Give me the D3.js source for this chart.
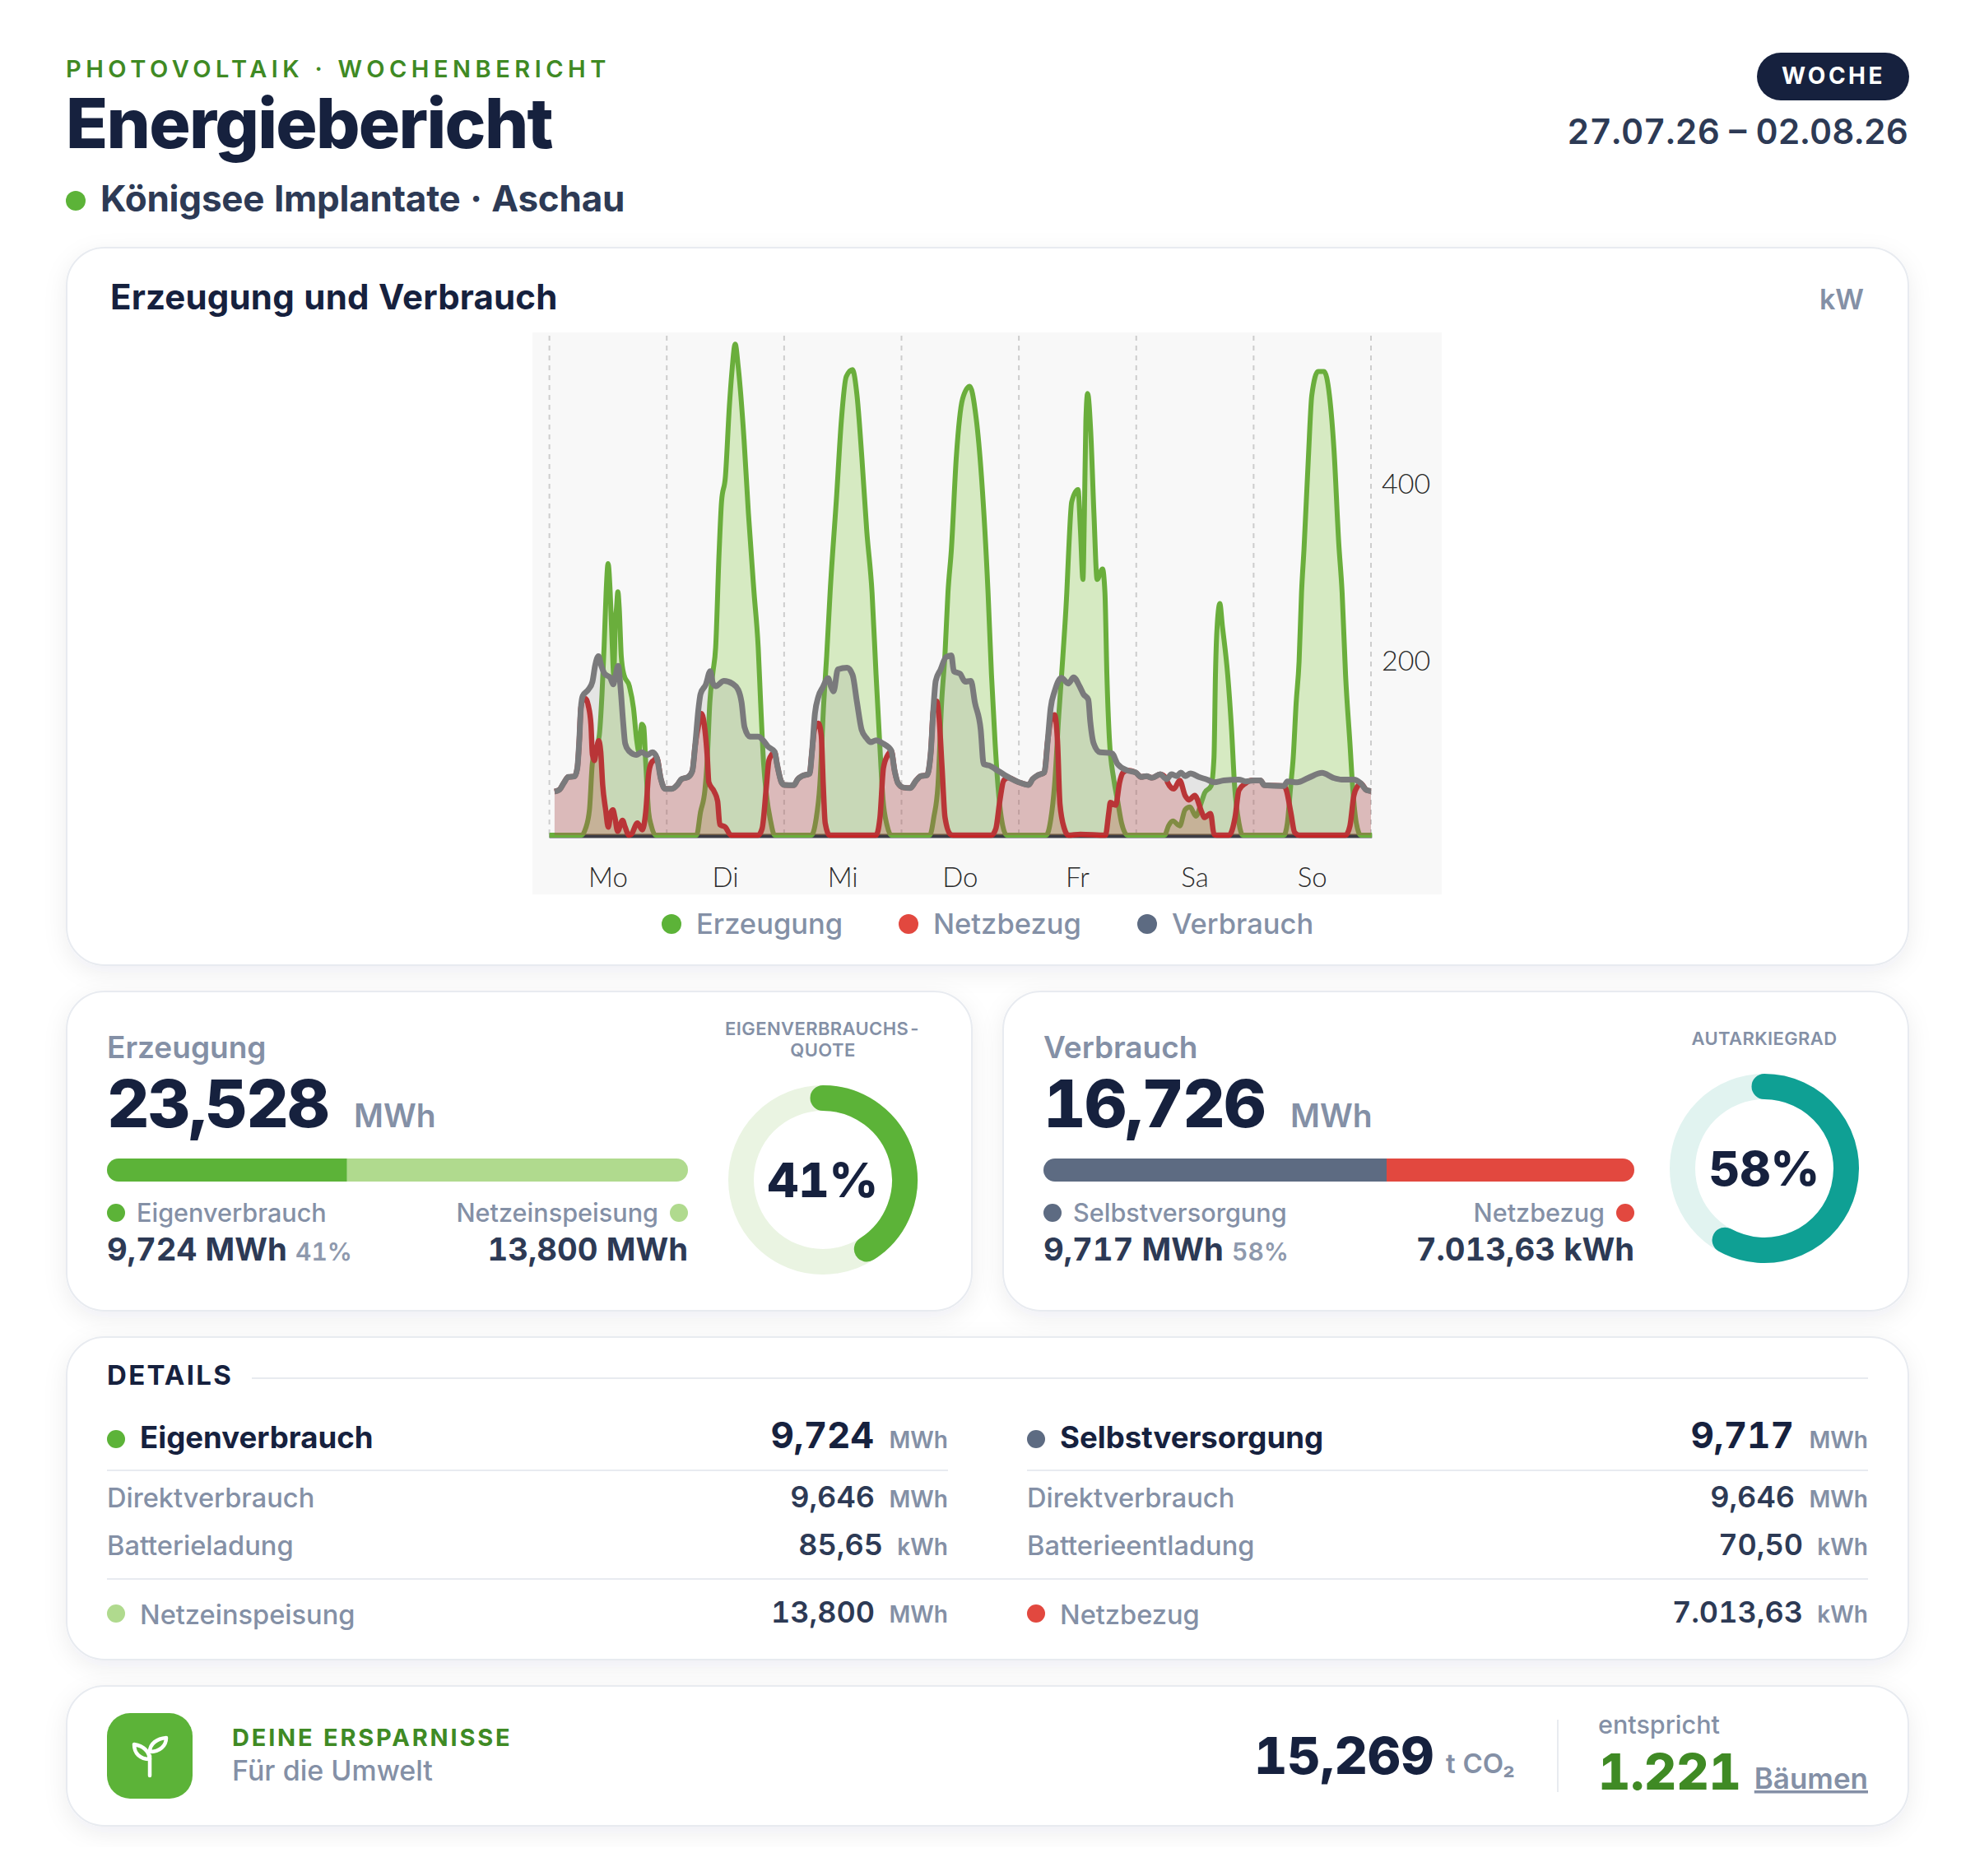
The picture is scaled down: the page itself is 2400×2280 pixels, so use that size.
<!DOCTYPE html>
<html lang="de">
<head>
<meta charset="utf-8">
<title>Energiebericht</title>
<script src="https://cdn.jsdelivr.net/npm/d3@7"></script>
<style>
  html, body { margin: 0; padding: 0; background: #fff; }
  svg { display: block; font-family: Inter, "Noto Sans", sans-serif; font-variant-numeric: tabular-nums; }
</style>
</head>
<body>
<svg id="page" width="2400" height="2280"></svg>
<script>
// hour of week, kW
var erzeugungKw = [
  [0,0],[6.55,0],[7.4,7.5],[8.2,29],[8.8,82],[10.2,113],[10.76,160],[11.2,215],[11.6,275],[12,308],[12.44,275],[12.83,219],[13.16,182],
  [13.5,244],[13.7,256],[14,276],[14.3,256],[14.7,203],[15.24,182],[16.36,169],[17.2,144],[17.87,107],[18.3,94.6],[18.88,125.7],[19.3,122.6],
  [19.7,82],[20.3,26],[20.84,10.6],[21.7,0],
  [30.1,0],[30.9,26],[31.8,51],[32.3,88],[32.8,150],[33.45,185],[34,213],[34.7,320],[35.2,378],[36,407],[36.8,486],[37.3,524],
  [38,557],[38.6,532],[39.8,449],[40.7,365],[41.85,275],[42.7,213],[43.2,150],[43.8,82],[44.4,45],[45.2,17],[46.05,0],
  [53.6,0],[54.5,17],[55.3,57],[56.1,150],[56.7,203],[57.4,275],[58.75,386],[59.7,470],[60.7,520],[61.97,528],[62.9,499],[63.9,428],
  [64.9,345],[65.98,275],[66.8,182],[67.55,104],[68.2,41.7],[69.07,10.6],[69.9,0],
  [77.8,0],[78.6,20],[79.46,57],[80.2,150],[80.9,206],[81.5,275],[82.2,324],[83.2,428],[84.5,495],[85.97,509],[87.06,482],[88.35,407],[89.7,275],
  [90.4,182],[91.15,104],[91.8,51],[92.7,10.6],[93.5,0],
  [101.6,0],[102.5,17],[103.3,57],[104.15,135],[105,203],[105.8,275],[106.2,324],[106.8,378],[108.1,392],[108.6,345],[109.1,290],[109.4,365],
  [109.7,470],[110.06,501],[110.7,457],[111.35,365],[112,290],[113.1,302],[113.6,275],[114,182],[114.5,110],[115.4,63.5],[116.2,38.6],[117,13.7],[118.2,0],
  [125.8,0],[126.6,10.6],[127.5,16],[128.9,10.6],[130,29],[131,32],[132.2,21.5],[133.4,38.6],[134,48],[135.3,55.7],[135.9,88],[136.2,182],[136.46,228],
  [137.1,262.6],[137.6,238],[138.7,182],[139.5,119],[140.1,57],[141,13.7],[141.8,0],
  [150.2,0],[150.9,13.7],[151.6,57],[152.1,88],[152.7,150],[153.3,197],[153.8,275],[154.3,324],[155.2,428],[155.9,499],[157.2,526],[158.4,526],[159.5,499],
  [160.45,436],[161.4,332],[162.1,275],[162.8,182],[163.7,104],[164.3,51],[165,13.7],[165.9,0],[168.2,0]
];

var netzbezugKw = [
  [1.06,49.5],[2.07,51.6],[2.91,58.8],[3.87,66],[5.15,66.6],[5.71,75.9],[6.11,107],[6.44,144],[6.83,153],[7.4,155],[7.96,147],[8.5,125.7],[8.8,91.5],
  [9.2,84.6],[9.64,97.7],[10.08,107],[10.5,94.6],[10.9,57],[11.5,29],[12.04,9],[12.6,26],[13,28.6],[13.4,20],[13.95,4.4],[14.96,16.8],[15.5,9],
  [16.25,0],[16.75,1],[18,13.7],[18.99,6],[19.7,26],[20.3,69.7],[20.84,82],[21.4,85],[21.96,88],[22.8,63.5],[23.64,52.6],[25.04,52.6],[26.16,57],
  [27,63.5],[28.4,66],[29.24,73],[29.8,101],[30.5,125],[31.1,138],[31.8,119.5],[32.3,88],[32.6,60],[33.7,49.5],[34.4,38.6],[34.85,12],[36,9],[37.1,0],
  [42.7,0],[43.5,7.5],[44.4,57],[44.9,85],[45.5,91.5],[46.05,94.6],[46.6,79],[47.45,60],[48,57],[49.97,56.6],[50.8,63.5],[51.65,67],[53.2,69.7],
  [53.7,94.6],[54.2,120],[55,127],[55.6,113],[56,57],[56.4,13.7],[57.3,0],[66.8,0],[67.6,20],[68.3,76],[69.1,90],[69.6,94],[69.9,96],[70.6,72.8],
  [71.3,58.8],[72.4,54],[73.8,53.5],[75,62],[76,67],[77.2,68],[78,94.6],[78.5,141],[79.2,152],[79.7,132],[80.3,76],[80.9,20],[82,1],[82.6,0],
  [90.4,0],[91.3,7.5],[92.1,38.6],[92.9,62],[93.8,65],[96,60],[98,57],[98.8,63.5],[99.9,68],[101.2,71],[101.9,107],[102.5,130],[103.3,136.6],
  [103.9,107],[104.4,35.5],[105.3,7.5],[106.1,0],[108.6,1],[113.7,0],[114.4,26],[114.7,37],[115.8,34],[116.6,60],[117.3,71],[118.2,73.4],[119.9,71],
  [121,66],[122.1,67],[123.2,65],[124.9,69],[126.2,63.5],[126.4,60],[127.7,52.6],[128.9,62],[130,44.8],[130.8,40],[131.96,45],[133.4,26],[133.9,20],
  [135.2,24.6],[135.9,1],[136.5,0],[139,0],[140.2,20],[141,51],[142.4,59],[143.5,62],[145.4,62],[146.2,56.6],[150.2,55.7],[150.7,51],[151.6,26],
  [152.4,3],[153.3,0],[162.8,0],[163.7,10.6],[164.5,45],[165.3,55.7],[165.9,58.8],[167.1,51],[168,50]
];

var verbrauchKw = [
  [1.06,49.5],[2.07,51.6],[2.91,58.8],[3.87,66],[5.15,66.6],[5.71,75.9],[6.11,107],[6.44,144],[6.83,158],[7.96,165],[8.8,174],[9.36,192.6],[10.03,203],
  [10.6,192.6],[11.3,183],[12.44,178.6],[13.05,171],[13.56,182],[14.06,192],[14.57,166],[15.07,129],[15.5,104],[16.2,96],[17.76,91],[18.88,94],[20,91],
  [21.1,94],[21.96,88],[22.8,63.5],[23.64,52.6],[25.04,52.6],[26.16,57],[27,63.5],[28.4,66],[29.24,73],[29.8,101],[30.5,144],[30.9,160],[32,171],
  [32.9,186],[33.45,172],[34,169],[35.7,175],[37.4,172],[38.6,165],[39.3,150.6],[39.9,122.6],[41,111.7],[42.7,111.7],[43.8,107],[44.65,100.8],[46.05,94.6],
  [46.6,79],[47.45,60],[48,57],[49.97,56.6],[50.8,63.5],[51.65,67],[53.2,69.7],[53.7,94.6],[54.3,138],[55,157],[55.9,167.7],[57,178],[57.55,169],[58.1,163],
  [59,188],[60.9,190],[62,181.7],[62.9,150.6],[63.85,119.5],[64.85,110],[65.7,105.5],[66.8,107.6],[68.2,104],[69.9,96],[70.6,72.8],[71.3,58.8],[72.4,54],
  [73.8,53.5],[75,62],[76,67],[77.2,68],[78,94.6],[78.5,141],[79,175],[80,188],[81.1,202],[82.2,204],[82.7,186],[84,183],[85,174],[86.2,175],[87,150.6],
  [88.2,119.5],[88.8,80.6],[89.9,79],[91.8,72.8],[94.1,65],[96,60],[98,57],[98.8,63.5],[99.9,68],[101.2,71],[101.9,107],[102.5,144],[103.3,163],[104.7,178.6],
  [106.1,172],[107.2,179],[108.4,169],[109.2,160],[110.2,153.7],[110.6,129],[111.3,104],[112.6,94],[115,93],[116.2,80.6],[118.2,73.4],[119.9,71],[121,66],
  [122.1,67],[123.2,65],[124.9,69],[126.2,63.5],[127.2,69],[128.3,67],[129.1,71],[130,67],[131.1,70],[132.8,66],[134.5,63],[135.9,60],[137.9,62],[141,63],
  [142.4,61],[144,62],[145.4,62],[146.2,56.6],[150.2,55.7],[150.9,61],[152.9,60],[155.2,65],[158,70.6],[160.3,65],[162,63],[164.5,63],[165.9,58.8],[167.1,51],[168,50]
];

var dayLabels = ["Mo", "Di", "Mi", "Do", "Fr", "Sa", "So"];
var yTickValues = [200, 400];

var legendItems = ["Erzeugung", "Netzbezug", "Verbrauch"];

var erzeugungSplit = [9.724, 13.804];
var verbrauchSplit = [9.717, 7.01363];
var eigenverbrauchsQuote = 0.41;
var autarkieGrad = 0.58;

var detailLeftRows = [
  ["Direktverbrauch", "9,646", "MWh"],
  ["Batterieladung", "85,65", "kWh"]
];
var detailRightRows = [
  ["Direktverbrauch", "9,646", "MWh"],
  ["Batterieentladung", "70,50", "kWh"]
];

var navy = "#16213e", slate = "#2d3a55", muted = "#8490a6", rule = "#e8ebf0";
var green = "#5cb338", lightGreen = "#b0da8e", darkGreen = "#3f8a24";
var red = "#e2483f", steel = "#5d6b82", teal = "#0fa094";

var svg = d3.select("#page");

var defs = svg.append("defs");
var shadow = defs.append("filter").attr("id", "cardShadow")
  .attr("x", "-5%").attr("y", "-10%").attr("width", "110%").attr("height", "125%");
shadow.append("feDropShadow")
  .attr("dx", 0).attr("dy", 8).attr("stdDeviation", 14)
  .attr("flood-color", "#1a2848").attr("flood-opacity", 0.07);

function label(parent, x, y, str, size, weight, fill, anchor, spacing) {
  return parent.append("text")
    .attr("x", x).attr("y", y)
    .attr("font-size", size)
    .attr("font-weight", weight)
    .attr("fill", fill)
    .attr("text-anchor", anchor || "start")
    .attr("letter-spacing", spacing || 0)
    .text(str);
}

function dot(parent, x, y, fill, r) {
  parent.append("circle").attr("cx", x).attr("cy", y).attr("r", r || 11).attr("fill", fill);
}

function card(x0, y0, x1, y1) {
  svg.append("rect")
    .attr("x", x0).attr("y", y0)
    .attr("width", x1 - x0).attr("height", y1 - y0)
    .attr("rx", 46)
    .attr("fill", "#fff")
    .attr("stroke", rule).attr("stroke-width", 2)
    .attr("filter", "url(#cardShadow)");
}

function hline(x0, x1, y) {
  svg.append("line").attr("x1", x0).attr("x2", x1).attr("y1", y).attr("y2", y)
    .attr("stroke", rule).attr("stroke-width", 2);
}

// header
label(svg, 80, 94, "PHOTOVOLTAIK · WOCHENBERICHT", 29, 600, darkGreen, "start", 5.5);
label(svg, 80, 180, "Energiebericht", 84, 800, navy, "start", -1.7);
dot(svg, 92, 244, green, 12);
label(svg, 122, 257, "Königsee Implantate · Aschau", 44, 700, slate, "start", -0.22);

svg.append("rect").attr("x", 2135).attr("y", 64).attr("width", 185).attr("height", 58).attr("rx", 29).attr("fill", navy);
label(svg, 2228, 102, "WOCHE", 28, 700, "#fff", "middle", 3.5);
label(svg, 2319, 175, "27.07.26 – 02.08.26", 42, 600, slate, "end");

// main chart card
card(81, 301, 2319, 1173);
label(svg, 134, 376, "Erzeugung und Verbrauch", 42, 700, navy, "start", 0.17);
label(svg, 2265, 376, "kW", 34, 600, muted, "end");

svg.append("rect").attr("x", 647).attr("y", 404).attr("width", 1105).attr("height", 683).attr("fill", "#f8f8f8");

var x = d3.scaleLinear().domain([0, 168]).range([667.6, 1666]);
var y = d3.scaleLinear().domain([0, 400]).range([1015, 586.4]);

var chart = svg.append("g");

chart.selectAll(".day-line")
  .data(d3.range(0, 8))
  .enter()
  .append("line")
  .attr("class", "day-line")
  .attr("x1", function (d) { return x(d * 24); })
  .attr("x2", function (d) { return x(d * 24); })
  .attr("y1", 408).attr("y2", 1015)
  .attr("stroke", "#cdcdcd").attr("stroke-width", 2).attr("stroke-dasharray", "6,6");

chart.append("line")
  .attr("x1", x(0)).attr("x2", x(168.2))
  .attr("y1", y(0) + 1).attr("y2", y(0) + 1)
  .attr("stroke", "#3c3c44").attr("stroke-width", 5);

var areaGen = d3.area()
  .x(function (d) { return x(d[0]); })
  .y0(y(0))
  .y1(function (d) { return y(d[1]); })
  .curve(d3.curveMonotoneX);
var lineGen = d3.line()
  .x(function (d) { return x(d[0]); })
  .y(function (d) { return y(d[1]); })
  .curve(d3.curveMonotoneX);

var chartSeries = [
  { data: erzeugungKw, line: "#6aae3c", fill: "rgba(107,194,23,0.24)", width: 6 },
  { data: netzbezugKw, line: "#c52628", fill: "rgba(205,40,40,0.24)", width: 6.5 },
  { data: verbrauchKw, line: "#7a7a7c", fill: "rgba(128,128,128,0.17)", width: 7 }
];

chartSeries.forEach(function (s) {
  chart.append("path").attr("d", areaGen(s.data)).attr("fill", s.fill);
  chart.append("path").attr("d", lineGen(s.data))
    .attr("fill", "none")
    .attr("stroke", s.line)
    .attr("stroke-width", s.width)
    .attr("stroke-linejoin", "round");
});

chart.selectAll(".day-label")
  .data(dayLabels)
  .enter()
  .append("text")
  .attr("class", "day-label")
  .attr("x", function (d, i) { return x(i * 24 + 12); })
  .attr("y", 1078)
  .attr("text-anchor", "middle")
  .attr("font-family", "Lato")
  .attr("font-weight", 300)
  .attr("font-size", 33)
  .attr("fill", "#2b2b2b")
  .text(function (d) { return d; });

chart.selectAll(".y-label")
  .data(yTickValues)
  .enter()
  .append("text")
  .attr("class", "y-label")
  .attr("x", 1679)
  .attr("y", function (d) { return y(d) + 14; })
  .attr("font-family", "Lato")
  .attr("font-weight", 300)
  .attr("font-size", 34)
  .attr("fill", "#2b2b2b")
  .text(function (d) { return d; });

var legendColors = [green, red, steel];
var legendDotX = [816, 1104, 1394];
legendItems.forEach(function (name, i) {
  dot(svg, legendDotX[i], 1123, legendColors[i], 12);
  label(svg, legendDotX[i] + 30, 1135, name, 34.5, 500, muted);
});

// kpi cards
function kpi(o) {
  card(o.left, 1205, o.right, 1593);
  label(svg, o.textX, 1286, o.title, 37, 600, muted);
  label(svg, o.textX, 1370, o.total, 80, 800, navy, "start", -1.8);
  label(svg, o.unitX, 1370, "MWh", 39, 600, muted);

  var barScale = d3.scaleLinear().domain([0, d3.sum(o.split)]).range([o.barLeft, o.barRight]);
  var clipId = "clip" + o.left;
  defs.append("clipPath").attr("id", clipId).append("rect")
    .attr("x", o.barLeft).attr("y", 1408)
    .attr("width", o.barRight - o.barLeft).attr("height", 28).attr("rx", 14);
  var bar = svg.append("g").attr("clip-path", "url(#" + clipId + ")");
  bar.append("rect").attr("x", barScale(0)).attr("y", 1408)
    .attr("width", barScale(o.split[0]) - barScale(0)).attr("height", 28).attr("fill", o.colors[0]);
  bar.append("rect").attr("x", barScale(o.split[0])).attr("y", 1408)
    .attr("width", barScale(d3.sum(o.split)) - barScale(o.split[0])).attr("height", 28).attr("fill", o.colors[1]);

  dot(svg, o.barLeft + 11, 1474, o.colors[0]);
  label(svg, o.barLeft + 36, 1485, o.leftName, 30.6, 500, muted);
  dot(svg, o.barRight - 11, 1474, o.colors[1]);
  label(svg, o.barRight - 36, 1485, o.rightName, 30.6, 500, muted, "end");

  label(svg, o.barLeft, 1532, o.leftValue, 38.3, 700, slate);
  label(svg, o.pctX, 1532, o.pct, 30, 600, "#8e99ad");
  label(svg, o.barRight, 1532, o.rightValue, 38.3, 700, slate, "end");

  var ring = svg.append("g").attr("transform", "translate(" + o.cx + "," + o.cy + ")");
  var arcPath = d3.path();
  arcPath.arc(0, 0, 99.5, -Math.PI / 2, -Math.PI / 2 + o.share * 2 * Math.PI);
  ring.append("circle").attr("r", 99.5).attr("fill", "none").attr("stroke", o.track).attr("stroke-width", 31);
  ring.append("path")
    .attr("d", arcPath.toString())
    .attr("fill", "none").attr("stroke", o.ringColor)
    .attr("stroke-width", 31).attr("stroke-linecap", "round");
  label(ring, 0, 21, o.pct, 58, 800, navy, "middle");
  o.caption.forEach(function (line, i) {
    label(svg, o.cx, o.captionY + i * 26, line, 22, 600, muted, "middle", 0.4);
  });
}

kpi({
  left: 81, right: 1181, textX: 130, unitX: 430, title: "Erzeugung", total: "23,528",
  split: erzeugungSplit, barLeft: 130, barRight: 836, colors: [green, lightGreen],
  leftName: "Eigenverbrauch", rightName: "Netzeinspeisung",
  leftValue: "9,724 MWh", rightValue: "13,800 MWh", pctX: 359, pct: "41%",
  cx: 1000, cy: 1434, share: eigenverbrauchsQuote, ringColor: green, track: "#eaf4e2",
  caption: ["EIGENVERBRAUCHS-", "QUOTE"], captionY: 1258
});

kpi({
  left: 1219, right: 2319, textX: 1268, unitX: 1568, title: "Verbrauch", total: "16,726",
  split: verbrauchSplit, barLeft: 1268, barRight: 1986, colors: [steel, red],
  leftName: "Selbstversorgung", rightName: "Netzbezug",
  leftValue: "9,717 MWh", rightValue: "7.013,63 kWh", pctX: 1497, pct: "58%",
  cx: 2144, cy: 1420, share: autarkieGrad, ringColor: teal, track: "#e1f3f0",
  caption: ["AUTARKIEGRAD"], captionY: 1270
});

// details card
card(81, 1625, 2319, 2017);
label(svg, 130, 1683, "DETAILS", 33, 700, navy, "start", 2.3);
hline(306, 2270, 1675);
hline(130, 1152, 1787);
hline(1248, 2270, 1787);
hline(130, 2270, 1919);

function detailColumn(o) {
  dot(svg, o.left + 11, 1749, o.headColor);
  label(svg, o.left + 40, 1760, o.head, 36.6, 700, navy);
  label(svg, o.right - 90, 1760, o.headValue, 44, 700, navy, "end");
  label(svg, o.right, 1760, "MWh", 28, 600, muted, "end");
  o.rows.forEach(function (row, i) {
    var rowY = 1832 + i * 58;
    var valueEnd = row[2] === "kWh" ? o.right - 79 : o.right - 89;
    label(svg, o.left, rowY, row[0], 32.6, 500, muted);
    label(svg, valueEnd, rowY, row[1], 36, 600, slate, "end");
    label(svg, o.right, rowY, row[2], 28, 600, muted, "end");
  });
  dot(svg, o.left + 11, 1961, o.footColor);
  label(svg, o.left + 40, 1974, o.foot, 32.6, 500, muted);
  label(svg, o.footValueEnd, 1972, o.footValue, 36, 600, slate, "end");
  label(svg, o.right, 1972, o.footUnit, 28, 600, muted, "end");
}

detailColumn({
  left: 130, right: 1152, head: "Eigenverbrauch", headValue: "9,724", headColor: green,
  rows: detailLeftRows, foot: "Netzeinspeisung", footValue: "13,800", footUnit: "MWh",
  footValueEnd: 1063, footColor: lightGreen
});
detailColumn({
  left: 1248, right: 2270, head: "Selbstversorgung", headValue: "9,717", headColor: steel,
  rows: detailRightRows, foot: "Netzbezug", footValue: "7.013,63", footUnit: "kWh",
  footValueEnd: 2191, footColor: red
});

// savings card
card(81, 2049, 2319, 2219);
svg.append("rect").attr("x", 130).attr("y", 2082).attr("width", 104).attr("height", 104).attr("rx", 28).attr("fill", green);
var sprout = svg.append("g")
  .attr("fill", "none").attr("stroke", "#fff").attr("stroke-width", 4.5)
  .attr("stroke-linecap", "round").attr("stroke-linejoin", "round");
sprout.append("path").attr("d", "M182 2158V2134");
sprout.append("path").attr("d", "M182 2138C181 2128 174 2122 163 2120C163 2131 170 2138 182 2138Z");
sprout.append("path").attr("d", "M182 2129C194 2129 202 2122 202 2112C191 2113 182 2119 182 2129Z");

label(svg, 282, 2122, "DEINE ERSPARNISSE", 29, 700, darkGreen, "start", 2.8);
label(svg, 282, 2164, "Für die Umwelt", 34, 500, muted);

label(svg, 1524, 2156, "15,269", 62.5, 800, navy);
label(svg, 1757, 2155, "t CO₂", 33, 600, muted);
svg.append("line").attr("x1", 1893).attr("x2", 1893).attr("y1", 2090).attr("y2", 2178)
  .attr("stroke", rule).attr("stroke-width", 2);
label(svg, 1942, 2107, "entspricht", 30.5, 500, muted);
label(svg, 1942, 2175, "1.221", 61, 800, darkGreen);
label(svg, 2270, 2174, "Bäumen", 35, 600, muted, "end").attr("text-decoration", "underline");
</script>
</body>
</html>
